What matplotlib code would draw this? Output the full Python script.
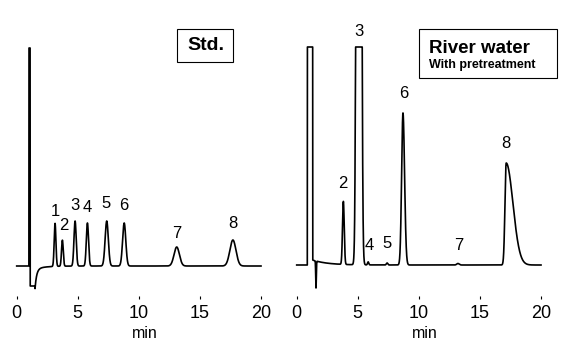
import numpy as np
import matplotlib
matplotlib.use('AGG')
from matplotlib import pyplot as plt
from matplotlib.patches import Rectangle

# peak tables (retention time in min, height and width in detector units)
std_rt = [3.14, 3.74, 4.78, 5.79, 7.37, 8.80, 13.1, 17.7]
std_height = [43, 26, 45, 43, 45, 43, 19, 26]
std_sigma = [0.07, 0.07, 0.09, 0.09, 0.13, 0.13, 0.22, 0.25]
std_labels = ['1', '2', '3', '4', '5', '6', '7', '8']

river_rt = [3.82, 5.09, 5.85, 7.4, 8.70, 13.2, 17.15]
river_height = [63, 3000, 3, 2, 152, 1.5, 102]
river_sigma = [0.07, 0.12, 0.05, 0.06, 0.11, 0.1, 0.1]
river_tail = [0.07, 0.12, 0.05, 0.06, 0.13, 0.1, 0.55]
river_labels = ['2', '3', '4', '5', '6', '7', '8']

CAP = 218  # detector full scale

t = np.linspace(0, 20, 8001)


def peaks(rt, h, s_left, s_right):
    y = np.zeros_like(t)
    for c, a, sl, sr in zip(rt, h, s_left, s_right):
        s = np.where(t < c, sl, sr)
        y += a * np.exp(-0.5 * ((t - c) / s) ** 2)
    return y


# standard: injection spike + negative dip with recovery
y_std = peaks(std_rt, std_height, std_sigma, std_sigma)
y_std = np.where((t >= 1.0) & (t < 1.1), CAP, y_std)
rec = t >= 1.1
y_std[rec] += -np.minimum(20, 20 * np.exp(-(t[rec] - 1.5) / 0.13)) - 3 * np.exp(-(t[rec] - 1.5) / 0.8) * (t[rec] > 1.5)
y_std = np.minimum(y_std, CAP)

# river water
y_riv = peaks(river_rt, river_height, river_sigma, river_tail)
y_riv = np.where((t >= 0.87) & (t < 1.31), CAP, y_riv)
after = t >= 1.31
y_riv[after] += 5 * np.exp(-(t[after] - 1.31) / 1.2) - 27 * np.exp(-0.5 * ((t[after] - 1.58) / 0.025) ** 2)
y_riv = np.minimum(y_riv, CAP)

W, H = 567, 359
fig = plt.figure(figsize=(W / 100, H / 100), dpi=100)

num_font = ['Liberation Sans', 'DejaVu Sans']


def make_ax(x0, x1, base):
    ax = fig.add_axes([x0 / W, (H - 296) / H, (x1 - x0) / W, (296 - 40) / H])
    ax.set_xlim(0, 20)
    ax.set_ylim(-(296 - base), base - 40)
    for sp in ax.spines.values():
        sp.set_visible(False)
    ax.set_yticks([])
    ax.set_xticks([0, 5, 10, 15, 20])
    ax.tick_params(axis='x', length=2.5, width=0.8, pad=4, labelsize=13)
    for lab in ax.get_xticklabels():
        lab.set_family(num_font)
    ax.patch.set_visible(False)
    return ax


ax1 = make_ax(16.7, 261, 266)
ax1.plot(t, y_std, color='black', lw=1.2, clip_on=False)
dx1 = [0, 0.14, 0, 0, -0.05, 0, 0, 0]
dy1 = [11, 14, 16, 15, 17, 17, 14, 16]
for c, h, lab, dx, dy in zip(std_rt, std_height, std_labels, dx1, dy1):
    ax1.text(c + dx, h + dy, lab, ha='center', va='center', fontsize=12, family=num_font)

ax2 = make_ax(296.7, 541, 265)
ax2.plot(t, y_riv, color='black', lw=1.2, clip_on=False)
dx2 = [-0.05, 0.04, 0.08, 0.03, 0.04, 0.05, 0.01]
for c, h, lab, dx in zip(river_rt, river_height, river_labels, dx2):
    top = min(h, CAP)
    y = top + 19 if top > 10 else 19
    if lab == '3':
        y = CAP + 16
    if lab == '5':
        y = 21
    ax2.text(c + dx, y, lab, ha='center', va='center', fontsize=12, family=num_font)

fig.text(145 / W, 1 - 334 / H, 'min', ha='center', va='center', fontsize=11.5, family=num_font)
fig.text(425 / W, 1 - 334 / H, 'min', ha='center', va='center', fontsize=11.5, family=num_font)


def box(x0, y0, x1, y1):
    fig.patches.append(Rectangle((x0 / W, 1 - y1 / H), (x1 - x0) / W, (y1 - y0) / H,
                                 transform=fig.transFigure, fill=False, ec='black', lw=0.8))


box(177, 29, 233, 62)
fig.text(206 / W, 1 - 45.5 / H, 'Std.', ha='center', va='center', fontsize=14, fontweight='bold',
         family=num_font)
box(419, 29, 557, 78)
fig.text(429 / W, 1 - 53 / H, 'River water', ha='left', va='baseline', fontsize=13.5, fontweight='bold',
         family=num_font)
fig.text(429 / W, 1 - 68 / H, 'With pretreatment', ha='left', va='baseline', fontsize=9, fontweight='bold',
         family=num_font)

fig.savefig('out.png', dpi=100)
